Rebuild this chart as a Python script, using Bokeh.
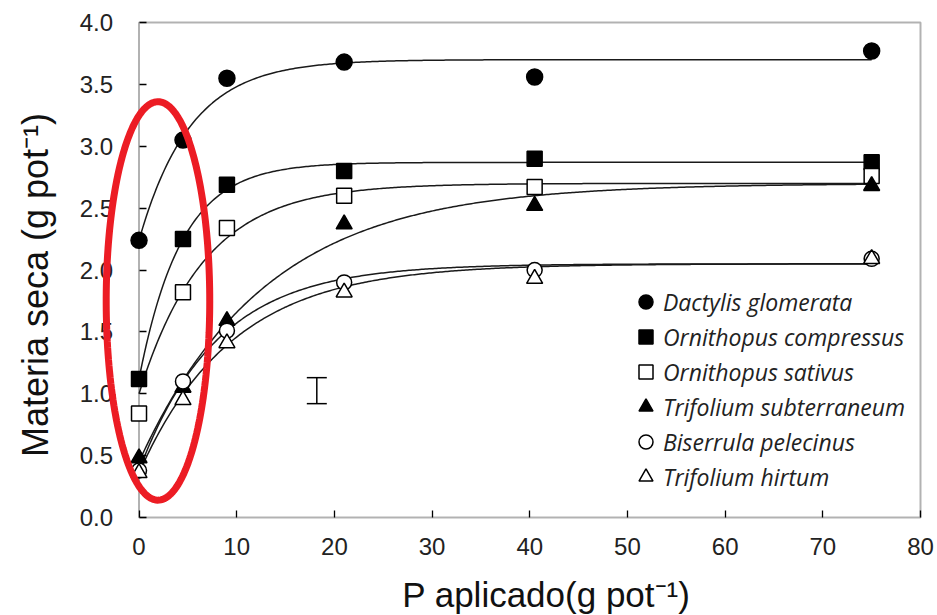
import numpy as np
from bokeh.plotting import figure
from bokeh.models import (ColumnDataSource, Legend, LegendItem, BoxAnnotation,
                          PolyAnnotation, Whisker, TeeHead, FixedTicker, Range1d,
                          NumeralTickFormatter, Label)
from bokeh.embed import file_html
from bokeh.resources import INLINE

# ---- data ----
p_applied = [0, 4.5, 9, 21, 40.5, 75]
species = ["Dactylis glomerata", "Ornithopus compressus", "Ornithopus sativus",
           "Trifolium subterraneum", "Biserrula pelecinus", "Trifolium hirtum"]
dactylis = [2.24, 3.05, 3.55, 3.68, 3.56, 3.77]
o_compressus = [1.12, 2.25, 2.69, 2.80, 2.90, 2.87]
o_sativus = [0.84, 1.82, 2.34, 2.60, 2.67, 2.76]
t_subterraneum = [0.48, 1.05, 1.59, 2.37, 2.52, 2.68]
b_pelecinus = [0.38, 1.10, 1.51, 1.90, 2.00, 2.09]
t_hirtum = [0.36, 0.95, 1.41, 1.82, 1.93, 2.09]

# fitted response curves y = a - b*exp(-c*x) (parameters)
fit_a = [3.70, 2.87, 2.70, 2.70, 2.05, 2.05]
fit_b = [1.46, 1.75, 1.70, 2.25, 1.67, 1.69]
fit_c = [0.19, 0.23, 0.15, 0.077, 0.125, 0.105]

# LSD error bar
err_x = [18.2]
err_low = [0.92]
err_high = [1.13]

# highlight ellipse (center x, center y, width, height in data units)
ell_cx, ell_cy, ell_w, ell_h = 1.94, 1.75, 10.6, 3.22

x_ticks = [0, 10, 20, 30, 40, 50, 60, 70, 80]
y_ticks = [0.0, 0.5, 1.0, 1.5, 2.0, 2.5, 3.0, 3.5, 4.0]

series = [dactylis, o_compressus, o_sativus, t_subterraneum, b_pelecinus, t_hirtum]
markers = ["circle", "square", "square", "triangle", "circle", "triangle"]
fills = ["black", "black", "white", "black", "white", "white"]
sizes = [16, 15, 15, 16, 15, 16]

p = figure(width=937, height=615, x_range=Range1d(-14.18, 81.74), y_range=Range1d(-0.792, 4.178),
           output_backend="svg", toolbar_location=None,
           min_border_left=0, min_border_right=0, min_border_top=0, min_border_bottom=0)
p.outline_line_color = None
p.grid.visible = False
p.background_fill_color = "white"
p.border_fill_color = "white"

# frame box
frame_box = BoxAnnotation(left=0, right=80, bottom=0, top=4, fill_alpha=0,
                          line_color="black", line_width=2, level="underlay")
p.add_layout(frame_box)

tick_font = "Liberation Sans"
for ax in (p.xaxis[0], p.yaxis[0]):
    ax.fixed_location = 0
    ax.axis_line_color = None
    ax.major_tick_in = 7
    ax.major_tick_out = 0
    ax.minor_tick_line_color = None
    ax.major_tick_line_color = "black"
    ax.major_tick_line_width = 1.3
    ax.major_label_text_font = tick_font
    ax.major_label_text_font_size = "24px"
    ax.major_label_text_color = "#222222"
p.xaxis.ticker = FixedTicker(ticks=x_ticks)
p.yaxis.ticker = FixedTicker(ticks=y_ticks)
p.yaxis.formatter = NumeralTickFormatter(format="0.0")
p.yaxis.major_label_standoff = 26
p.xaxis.major_label_standoff = 21

# fitted curves
xs_fit = np.linspace(0, 75, 400)
for a, b, c in zip(fit_a, fit_b, fit_c):
    p.line(xs_fit, a - b * np.exp(-c * xs_fit), line_color="#1a1a1a", line_width=1.5)

# error bar
src_err = ColumnDataSource(dict(base=err_x, lower=err_low, upper=err_high))
wh = Whisker(source=src_err, base="base", lower="lower", upper="upper", dimension="height",
             line_color="black", line_width=1.5,
             upper_head=TeeHead(size=20, line_color="black", line_width=1.5),
             lower_head=TeeHead(size=20, line_color="black", line_width=1.5))
p.add_layout(wh)

# data points
items = []
for name, ys, m, f, s in zip(species, series, markers, fills, sizes):
    src = ColumnDataSource(dict(x=p_applied, y=ys))
    r = p.scatter("x", "y", source=src, marker=m, size=s, fill_color=f,
                  line_color="black", line_width=1.5)
    items.append(LegendItem(label=name, renderers=[r]))

legend = Legend(items=items, location=(628, 121), border_line_color=None,
                background_fill_alpha=0, label_text_font="Open Sans",
                label_text_font_style="italic", label_text_font_size="23px",
                label_text_color="#222222",
                glyph_width=35, glyph_height=35, label_height=35, spacing=0,
                padding=0, margin=0, label_standoff=0)
p.add_layout(legend)

# axis titles
p.add_layout(Label(x=41.7, y=-0.622, text="P aplicado(g pot\u207b\u00b9)", text_align="center",
                   text_baseline="alphabetic", text_font="Liberation Sans",
                   text_font_size="35px", text_color="#111111"))
p.add_layout(Label(x=-10.6, y=1.879, text="Materia seca (g pot\u207b\u00b9)", angle=np.pi / 2,
                   text_align="center", text_baseline="alphabetic", text_font="Liberation Sans",
                   text_font_size="36px", text_color="#111111"))

# red highlight ellipse
t = np.linspace(0, 2 * np.pi, 200)
ell = PolyAnnotation(xs=list(ell_cx + ell_w / 2 * np.cos(t)), ys=list(ell_cy + ell_h / 2 * np.sin(t)),
                     xs_units="data", ys_units="data", fill_alpha=0,
                     line_color="#ec1c24", line_alpha=1.0, line_width=7)
p.add_layout(ell)

open("out.html", "w").write(file_html(p, INLINE))
